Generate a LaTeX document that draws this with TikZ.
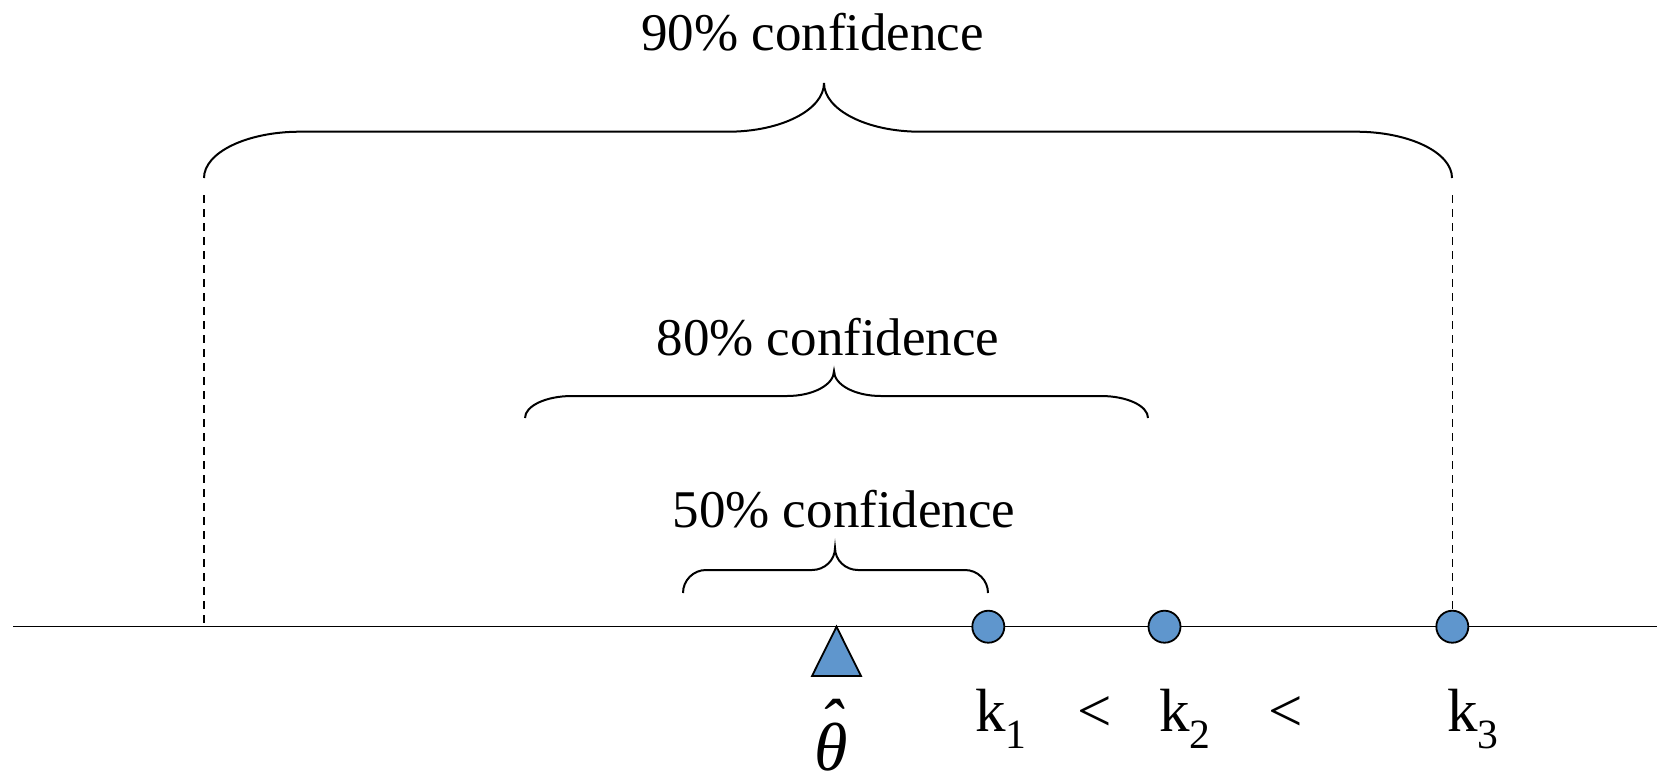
\documentclass[tikz,border=0pt]{standalone}
\usepackage{fontspec}
\setmainfont{Liberation Serif}
\definecolor{markblue}{RGB}{95,150,205}
\newcommand\confbrace[7]{%
  \draw[bracestyle] (#1,#4) .. controls (#1,{#4-0.552*(#4-#5)}) and ({#1+0.448*#7},#5) .. ({#1+#7},#5)
   -- ({#3-#7},#5) .. controls ({#3-0.448*#7},#5) and (#3,{#6+0.552*(#5-#6)}) .. (#3,#6)
   .. controls (#3,{#6+0.552*(#5-#6)}) and ({#3+0.448*#7},#5) .. ({#3+#7},#5)
   -- ({#2-#7},#5) .. controls ({#2-0.448*#7},#5) and (#2,{#4-0.552*(#4-#5)}) .. (#2,#4);}
\begin{document}
\begin{tikzpicture}[x=0.5pt,y=-0.5pt,
  bracestyle/.style={line width=1pt},
  guide/.style={line width=0.65pt, dash pattern=on 4pt off 3pt},
  axisline/.style={line width=0.75pt},
  dot/.style={circle, draw=black, line width=0.9pt, fill=markblue, minimum size=16pt, inner sep=0pt},
  marker/.style={draw=black, line width=0.9pt, fill=markblue, line join=miter},
  conf/.style={font=\fontsize{26.5pt}{30pt}\selectfont, anchor=base, inner sep=0pt},
  klabel/.style={font=\fontsize{30.5pt}{34pt}\selectfont, anchor=base west, inner sep=0pt},
  ltlabel/.style={font=\fontsize{30.5pt}{34pt}\selectfont, anchor=base, inner sep=0pt},
  thlabel/.style={font=\fontsize{34pt}{36pt}\selectfont\itshape, anchor=base, inner sep=0pt},
]
\useasboundingbox (0,0) rectangle (1657,777);

% axis
\coordinate (axL) at (13,626.7);
\coordinate (axR) at (1657,626.7);
\draw[axisline] (axL) -- (axR);

% braces
\confbrace{204}{1452}{824}{178}{131.7}{83}{96}
\confbrace{525}{1148}{834}{418}{396}{371}{47}
\confbrace{683}{988}{835}{593}{570}{548}{23}

% brace labels
\node[conf] (c90) at (812.5,50) {90\% confidence};
\node[conf] (c80) at (828,355) {80\% confidence};
\node[conf] (c50) at (844,527) {50\% confidence};

% markers
\node[dot] (k1) at (988.3,626.7) {};
\node[dot] (k2) at (1164.5,626.7) {};
\node[dot] (k3) at (1452.3,626.7) {};
\draw[marker] (836.5,626.7) -- (861,676) -- (812,676) -- cycle;

% guides
\coordinate (gL) at (204,195);
\coordinate (gLb) at (204,626.7);
\coordinate (gR) at (1452.3,195);
\draw[guide] (gL) -- (gLb);
\draw[guide] (gR) -- (k3.north);

% labels
\node[klabel] (lk1) at (975,731.7) {k\raisebox{-8.2pt}{\fontsize{20.8pt}{22pt}\selectfont 1}};
\node[ltlabel] (lt1) at (1095,731.7) {<};
\node[klabel] (lk2) at (1159,731.7) {k\raisebox{-8.2pt}{\fontsize{20.8pt}{22pt}\selectfont 2}};
\node[ltlabel] (lt2) at (1285.5,731.7) {<};
\node[klabel] (lk3) at (1447,731.7) {k\raisebox{-8.2pt}{\fontsize{20.8pt}{22pt}\selectfont 3}};
\node[thlabel] (th) at (831,770) {θ};
\node[thlabel] (thhat) at (831,746) {ˆ};
\end{tikzpicture}
\end{document}
